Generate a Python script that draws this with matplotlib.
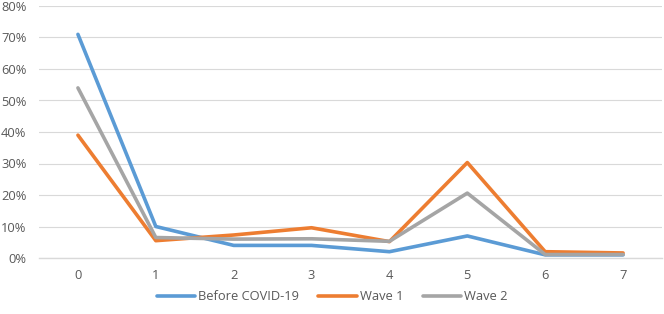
import matplotlib
matplotlib.use("Agg")
import matplotlib.pyplot as plt
from matplotlib.ticker import PercentFormatter

categories = [0, 1, 2, 3, 4, 5, 6, 7]
before = [71, 10, 4, 4, 2, 7, 1, 1]
wave1 = [39, 5.5, 7.3, 9.6, 5.2, 30.3, 2, 1.6]
wave2 = [54, 6.5, 6, 6.1, 5.3, 20.6, 1.1, 1.1]

plt.rcParams['font.family'] = ['Open Sans', 'DejaVu Sans']
fig = plt.figure(figsize=(6.64, 3.14), dpi=100)
ax = fig.add_axes([39/664, 1 - 258/314, 623/664, 252/314])

ax.plot(categories, before, color='#5B9BD5', lw=2.6, label='Before COVID-19', solid_capstyle='round')
ax.plot(categories, wave1, color='#ED7D31', lw=2.6, label='Wave 1', solid_capstyle='round')
ax.plot(categories, wave2, color='#A5A5A5', lw=2.6, label='Wave 2', solid_capstyle='round')

ax.set_xlim(-0.5, 7.5)
ax.set_ylim(0, 80)
ax.set_yticks(range(0, 81, 10))
ax.yaxis.set_major_formatter(PercentFormatter(decimals=0))
ax.set_xticks(categories)
ax.grid(axis='y', color='#D9D9D9', lw=0.8)
ax.set_axisbelow(True)
for s in ['top', 'right', 'left']:
    ax.spines[s].set_visible(False)
ax.spines['bottom'].set_color('#D9D9D9')
ax.spines['bottom'].set_linewidth(1.0)
ax.tick_params(length=0, labelsize=9.3, labelcolor='#595959', pad=8)
ax.tick_params(axis='y', pad=9)

fig.legend(loc='center', bbox_to_anchor=(0.5, 1 - 297/314), ncol=3, frameon=False,
           fontsize=9.3, labelcolor='#595959', handlelength=3.0, handletextpad=0.2, columnspacing=1.5)

fig.savefig('out.png', dpi=100)
